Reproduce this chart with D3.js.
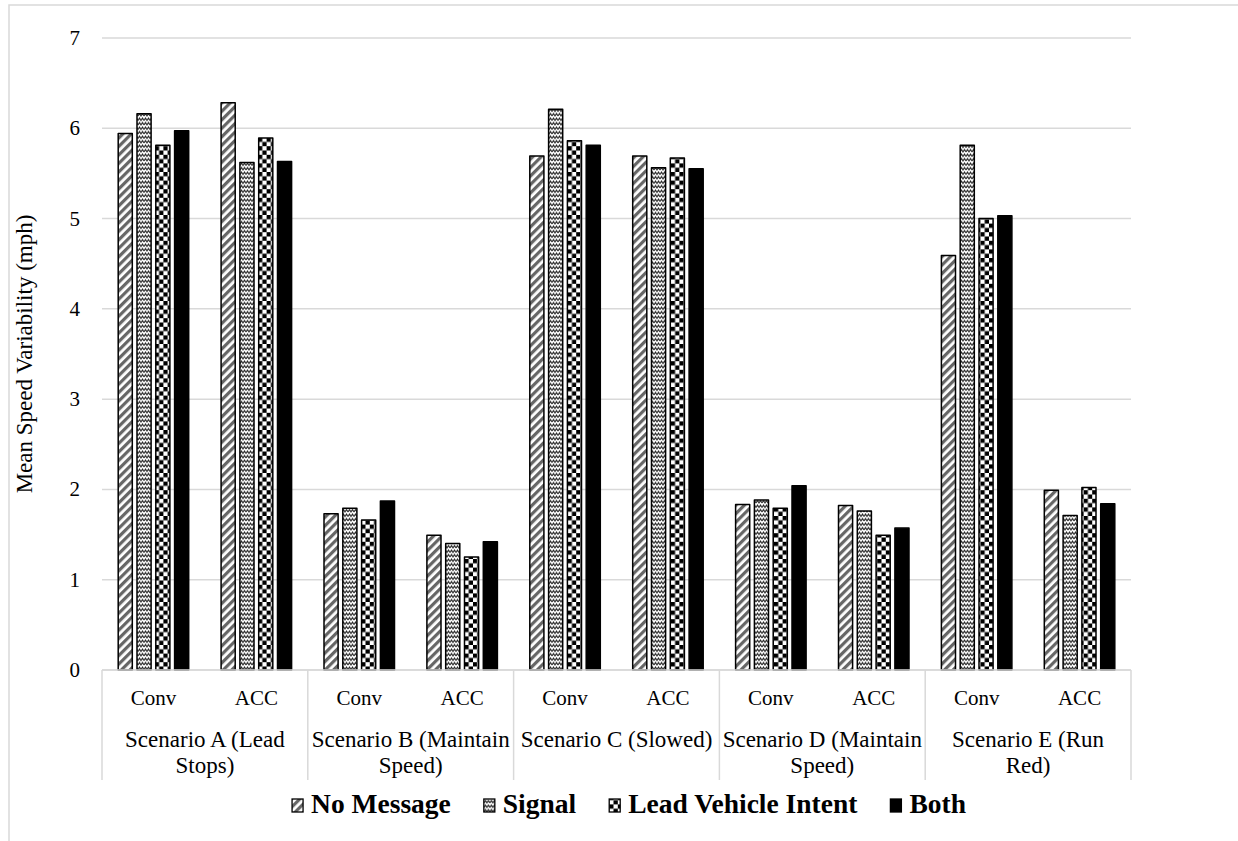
<!DOCTYPE html>
<html>
<head>
<meta charset="utf-8">
<script src="https://cdn.jsdelivr.net/npm/d3@7"></script>
<style>
  html, body { margin: 0; padding: 0; background: #fff; }
  svg { display: block; }
</style>
</head>
<body>
<svg id="chart" width="1238" height="841" font-family="'Liberation Serif', Tinos, 'DejaVu Serif', serif"></svg>
<script>
// Mean speed variability by scenario, vehicle type and message condition
const scenarioLines = [
  ["Scenario A (Lead", "Stops)"],
  ["Scenario B (Maintain", "Speed)"],
  ["Scenario C (Slowed)"],
  ["Scenario D (Maintain", "Speed)"],
  ["Scenario E (Run", "Red)"]
];
const vehicleTypes = ["Conv", "ACC"];
const seriesNames = ["No Message", "Signal", "Lead Vehicle Intent", "Both"];

// one value per (scenario, vehicle) pair, in order A-Conv, A-ACC, B-Conv, ...
const noMessage  = [5.95, 6.29, 1.74, 1.50, 5.70, 5.70, 1.84, 1.83, 4.60, 2.00];
const signal     = [6.17, 5.63, 1.80, 1.41, 6.22, 5.57, 1.89, 1.77, 5.82, 1.72];
const leadIntent = [5.82, 5.90, 1.67, 1.26, 5.87, 5.68, 1.80, 1.50, 5.01, 2.03];
const both       = [5.98, 5.64, 1.88, 1.43, 5.82, 5.56, 2.05, 1.58, 5.04, 1.85];

const yTicks = [0, 1, 2, 3, 4, 5, 6, 7];
const yTitle = "Mean Speed Variability (mph)";

const seriesValues = [noMessage, signal, leadIntent, both];

const svg = d3.select("#chart");
const serif = "'Liberation Serif', Tinos, 'DejaVu Serif', serif";
const plotLeft = 102, plotRight = 1131, plotTop = 38, plotBottom = 670;
const grid = "#d9d9d9";

// outer frame
svg.append("rect")
  .attr("x", 9).attr("y", 5).attr("width", 1400).attr("height", 1000)
  .attr("fill", "none").attr("stroke", grid).attr("stroke-width", 1.5);

// fill patterns
const defs = svg.append("defs");
const stripes = defs.append("pattern").attr("id", "p-stripes")
  .attr("patternUnits", "userSpaceOnUse").attr("width", 6).attr("height", 6)
  .attr("patternTransform", "rotate(45)");
stripes.append("rect").attr("width", 6).attr("height", 6).attr("fill", "#fff");
stripes.append("rect").attr("width", 3.2).attr("height", 6).attr("fill", "#666");

const zig = defs.append("pattern").attr("id", "p-zigzag")
  .attr("patternUnits", "userSpaceOnUse").attr("width", 6).attr("height", 4.5);
zig.append("rect").attr("width", 6).attr("height", 4.5).attr("fill", "#fff");
zig.append("path").attr("d", "M0,3.5 L1.5,1 L3,3.5 L4.5,1 L6,3.5")
  .attr("fill", "none").attr("stroke", "#222").attr("stroke-width", 1);

const chk = defs.append("pattern").attr("id", "p-check")
  .attr("patternUnits", "userSpaceOnUse").attr("width", 8.6).attr("height", 8.6);
chk.append("rect").attr("width", 8.6).attr("height", 8.6).attr("fill", "#fff");
chk.append("rect").attr("width", 4.3).attr("height", 4.3).attr("fill", "#000");
chk.append("rect").attr("x", 4.3).attr("y", 4.3).attr("width", 4.3).attr("height", 4.3).attr("fill", "#000");

const fills = ["url(#p-stripes)", "url(#p-zigzag)", "url(#p-check)", "#000"];

// scales
const scenarioIdx = d3.range(scenarioLines.length);
const x0 = d3.scaleBand().domain(scenarioIdx).range([plotLeft, plotRight]);
const x1 = d3.scaleBand().domain(vehicleTypes).range([0, x0.bandwidth()]);
const y = d3.scaleLinear().domain([0, 7]).range([plotBottom, plotTop]);

// gridlines
svg.append("g").selectAll("line").data(yTicks).join("line")
  .attr("x1", plotLeft).attr("x2", plotRight)
  .attr("y1", d => y(d)).attr("y2", d => y(d))
  .attr("stroke", grid).attr("stroke-width", 1.5);

// y tick labels
svg.append("g").selectAll("text").data(yTicks).join("text")
  .attr("font-family", serif)
  .attr("x", 80).attr("y", d => y(d)).attr("dy", "0.33em")
  .attr("text-anchor", "end").attr("font-size", 21)
  .text(d => d);

// y title
svg.append("text")
  .attr("font-family", serif)
  .attr("transform", `translate(32,${(plotTop + plotBottom) / 2}) rotate(-90)`)
  .attr("text-anchor", "middle").attr("font-size", 23)
  .text(yTitle);

// bars
const rows = [];
scenarioIdx.forEach(s => vehicleTypes.forEach((v, vi) => {
  const k = s * vehicleTypes.length + vi;
  seriesNames.forEach((name, si) => rows.push({ s, v, si, value: seriesValues[si][k] }));
}));

const gw = 36;
const xb = d3.scaleBand().domain(d3.range(seriesNames.length)).range([-gw, gw]).paddingInner(0.17);
const sw = 1.5;

svg.append("g").selectAll("rect").data(rows).join("rect")
  .attr("x", d => x0(d.s) + x1(d.v) + x1.bandwidth() / 2 + xb(d.si) + sw / 2)
  .attr("width", xb.bandwidth() - sw)
  .attr("y", d => y(d.value) + sw / 2)
  .attr("height", d => y(0) - y(d.value) - sw / 2)
  .attr("fill", d => fills[d.si])
  .attr("stroke", "#000").attr("stroke-width", sw)
  .attr("stroke-linejoin", "round");

// category axis: baseline and separators
svg.append("line").attr("x1", plotLeft).attr("x2", plotRight)
  .attr("y1", plotBottom).attr("y2", plotBottom)
  .attr("stroke", grid).attr("stroke-width", 1.5);
const seps = scenarioIdx.map(s => x0(s)).concat([plotRight]);
svg.append("g").selectAll("line").data(seps).join("line")
  .attr("x1", d => d).attr("x2", d => d)
  .attr("y1", plotBottom).attr("y2", 780)
  .attr("stroke", grid).attr("stroke-width", 1.5);

// vehicle labels
const sub = [];
scenarioIdx.forEach(s => vehicleTypes.forEach(v => sub.push({ s, v })));
svg.append("g").selectAll("text").data(sub).join("text")
  .attr("font-family", serif)
  .attr("x", d => x0(d.s) + x1(d.v) + x1.bandwidth() / 2)
  .attr("y", 705).attr("text-anchor", "middle").attr("font-size", 21)
  .text(d => d.v);

// scenario labels
const sl = svg.append("g").selectAll("text").data(scenarioIdx).join("text")
  .attr("font-family", serif)
  .attr("text-anchor", "middle").attr("font-size", 23);
sl.each(function (s) {
  const t = d3.select(this);
  scenarioLines[s].forEach((line, i) => {
    t.append("tspan")
      .attr("x", x0(s) + x0.bandwidth() / 2)
      .attr("y", 747 + i * 26)
      .text(line);
  });
});

// legend
const lg = svg.append("g");
let cx = 0;
seriesNames.forEach((name, i) => {
  const g = lg.append("g");
  g.append("rect").attr("x", 0).attr("y", -14).attr("width", 11).attr("height", 13)
    .attr("fill", fills[i]).attr("stroke", "#000").attr("stroke-width", 1.3);
  const t = g.append("text").attr("font-family", serif).attr("x", 19).attr("y", 0)
    .attr("font-size", 27.5).attr("font-weight", "bold").text(name);
  const w = 19 + t.node().getComputedTextLength();
  g.attr("transform", `translate(${cx},0)`);
  cx += w + 33;
});
const totalW = cx - 33;
lg.attr("transform", `translate(${629 - totalW / 2},813)`);
</script>
</body>
</html>
